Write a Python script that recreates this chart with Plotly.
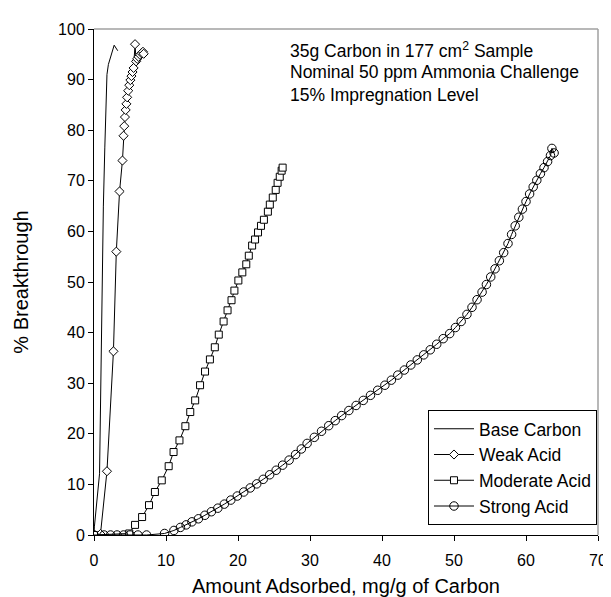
import plotly.graph_objects as go

# ---------------- data ----------------
base_x = [0, 0.05, 0.77, 0.9, 1.1, 1.3, 1.5, 1.65, 1.8, 2.0, 2.3, 2.8, 3.3]
base_y = [0, 1.6, 12.1, 25.0, 49.0, 65.0, 76.5, 85.0, 91.0, 93.0, 94.3, 96.8, 95.7]

weak_x = [0, 0.9, 1.8, 2.7, 3.1, 3.55, 3.95, 4.1, 4.2, 4.3, 4.4, 4.5, 4.6, 4.75,
          4.9, 5.05, 5.2, 5.35, 5.5, 5.7, 5.85, 6.0, 6.2, 6.4, 6.6, 6.8, 6.9]
weak_y = [0, 0.2, 12.6, 36.3, 56.0, 67.9, 74.0, 78.9, 80.8, 82.6, 84.0, 85.2, 86.5, 87.8,
          88.9, 89.9, 90.7, 91.5, 92.3, 97.0, 93.6, 94.1, 94.5, 94.9, 95.2, 95.5, 95.1]

mod_x = [0, 4.9, 5.7, 6.68, 7.64, 8.46, 9.41, 10.37, 11.05, 11.87, 12.69, 13.37, 14.05,
         14.73, 15.42, 16.1, 16.78, 17.33, 18.0, 18.55, 19.1, 19.5, 20.05, 20.6, 21.15,
         21.5, 21.96, 22.37, 22.78, 23.19, 23.6, 24.15, 24.42, 24.83, 25.24, 25.5, 25.8,
         26.06, 26.2]
mod_y = [0, 0.3, 2.0, 3.55, 5.9, 8.5, 10.8, 13.6, 16.4, 18.7, 21.5, 24.3, 26.6,
         29.6, 32.3, 34.7, 37.1, 39.6, 42.2, 44.4, 46.4, 48.3, 50.3, 51.9, 53.5,
         55.2, 57.2, 58.4, 59.8, 61.1, 62.3, 63.9, 65.3, 66.7, 68.2, 69.6, 70.8,
         72.0, 72.6]

strong_x = [0, 1.4, 2.3, 3.2, 4.1, 5.0, 6.1, 7.3, 9.8, 11.1, 12.0, 12.8, 13.6, 14.5,
            15.4, 16.3, 17.2, 18.1, 19.0, 19.9, 20.8, 21.7, 22.6, 23.5, 24.4, 25.3,
            26.2, 27.1, 28.0, 28.8, 29.6, 30.6, 31.6, 32.6, 33.5, 34.4, 35.4, 36.4,
            37.4, 38.4, 39.4, 40.4, 41.3, 42.2, 43.1, 44.0, 44.9, 45.8, 46.7, 47.6,
            48.5, 49.4, 50.2, 51.0, 51.8, 52.5, 53.2, 53.9, 54.5, 55.1, 55.7, 56.3,
            56.9, 57.5, 58.0, 58.5, 59.0, 59.5, 60.0, 60.5, 61.0, 61.5, 62.0, 62.5,
            63.0, 63.4, 63.6, 63.9]
strong_y = [0, 0, 0, 0, 0, 0, 0, 0, 0.3, 0.9, 1.5, 2.0, 2.6, 3.2,
            3.9, 4.6, 5.3, 6.1, 6.9, 7.7, 8.5, 9.3, 10.1, 11.0, 11.9, 12.8,
            13.8, 14.8, 15.9, 17.0, 18.1, 19.3, 20.5, 21.6, 22.6, 23.6, 24.6, 25.6,
            26.6, 27.6, 28.6, 29.6, 30.6, 31.6, 32.6, 33.6, 34.6, 35.6, 36.6, 37.7,
            38.8, 39.8, 41.0, 42.2, 43.6, 45.0, 46.5, 48.0, 49.5, 51.0, 52.6, 54.2,
            55.8, 57.6, 59.4, 61.1, 62.8, 64.4, 65.9, 67.4, 68.8, 70.1, 71.4, 72.6,
            73.8, 75.0, 76.4, 75.5]

x_ticks = [0, 10, 20, 30, 40, 50, 60, 70]
y_ticks = [0, 10, 20, 30, 40, 50, 60, 70, 80, 90, 100]

note_lines = ["35g Carbon in 177 cm<sup>2</sup> Sample",
              "Nominal 50 ppm Ammonia Challenge",
              "15% Impregnation Level"]

FONT = "Liberation Sans, Arial, sans-serif"

fig = go.Figure()
line = dict(color="black", width=1)
fig.add_trace(go.Scatter(x=base_x, y=base_y, mode="lines", name="Base Carbon", line=line))
fig.add_trace(go.Scatter(x=weak_x, y=weak_y, mode="lines+markers", name="Weak Acid", line=line,
                         marker=dict(symbol="diamond", size=7, color="white",
                                     line=dict(color="black", width=1))))
fig.add_trace(go.Scatter(x=mod_x, y=mod_y, mode="lines+markers", name="Moderate Acid", line=line,
                         marker=dict(symbol="square", size=7, color="white",
                                     line=dict(color="black", width=1))))
fig.add_trace(go.Scatter(x=strong_x, y=strong_y, mode="lines+markers", name="Strong Acid", line=line,
                         marker=dict(symbol="circle", size=8.5, color="rgba(255,255,255,0)",
                                     line=dict(color="black", width=1))))

for i, t in enumerate(note_lines):
    fig.add_annotation(x=0.384, y=1 - (21 + 22.5 * i) / 507.0, xref="paper", yref="paper",
                       text=t, showarrow=False, xanchor="left", yanchor="middle",
                       font=dict(family=FONT, size=17.5, color="black"))

# gray top and right border
fig.add_shape(type="line", xref="paper", yref="paper", x0=0, x1=1, y0=1, y1=1,
              line=dict(color="#a0a0a0", width=1.5))
fig.add_shape(type="line", xref="paper", yref="paper", x0=1, x1=1, y0=0, y1=1,
              line=dict(color="#a0a0a0", width=1.5))

fig.update_layout(
    width=611, height=597,
    margin=dict(l=86, r=12, t=21, b=69),
    paper_bgcolor="white", plot_bgcolor="white",
    font=dict(family=FONT, color="black"),
    showlegend=True,
    legend=dict(x=0.998, xanchor="right", y=0.02, yanchor="bottom",
                bordercolor="black", borderwidth=1, bgcolor="white",
                font=dict(family=FONT, size=17.5, color="black"),
                tracegroupgap=0, itemwidth=40),
    xaxis=dict(range=[0, 70], tickvals=x_ticks, ticks="outside", ticklen=5,
               tickcolor="black", showline=True, linecolor="black", linewidth=1,
               showgrid=False, zeroline=False, tickfont=dict(size=16),
               ticklabelstandoff=6,
               title=dict(text="Amount Adsorbed, mg/g of Carbon", font=dict(size=20),
                          standoff=10)),
    yaxis=dict(range=[0, 100], tickvals=y_ticks, ticks="outside", ticklen=5,
               tickcolor="black", showline=True, linecolor="black", linewidth=1,
               showgrid=False, zeroline=False, tickfont=dict(size=16),
               title=dict(text="% Breakthrough", font=dict(size=20), standoff=24)),
)

fig.write_html("out.html")
